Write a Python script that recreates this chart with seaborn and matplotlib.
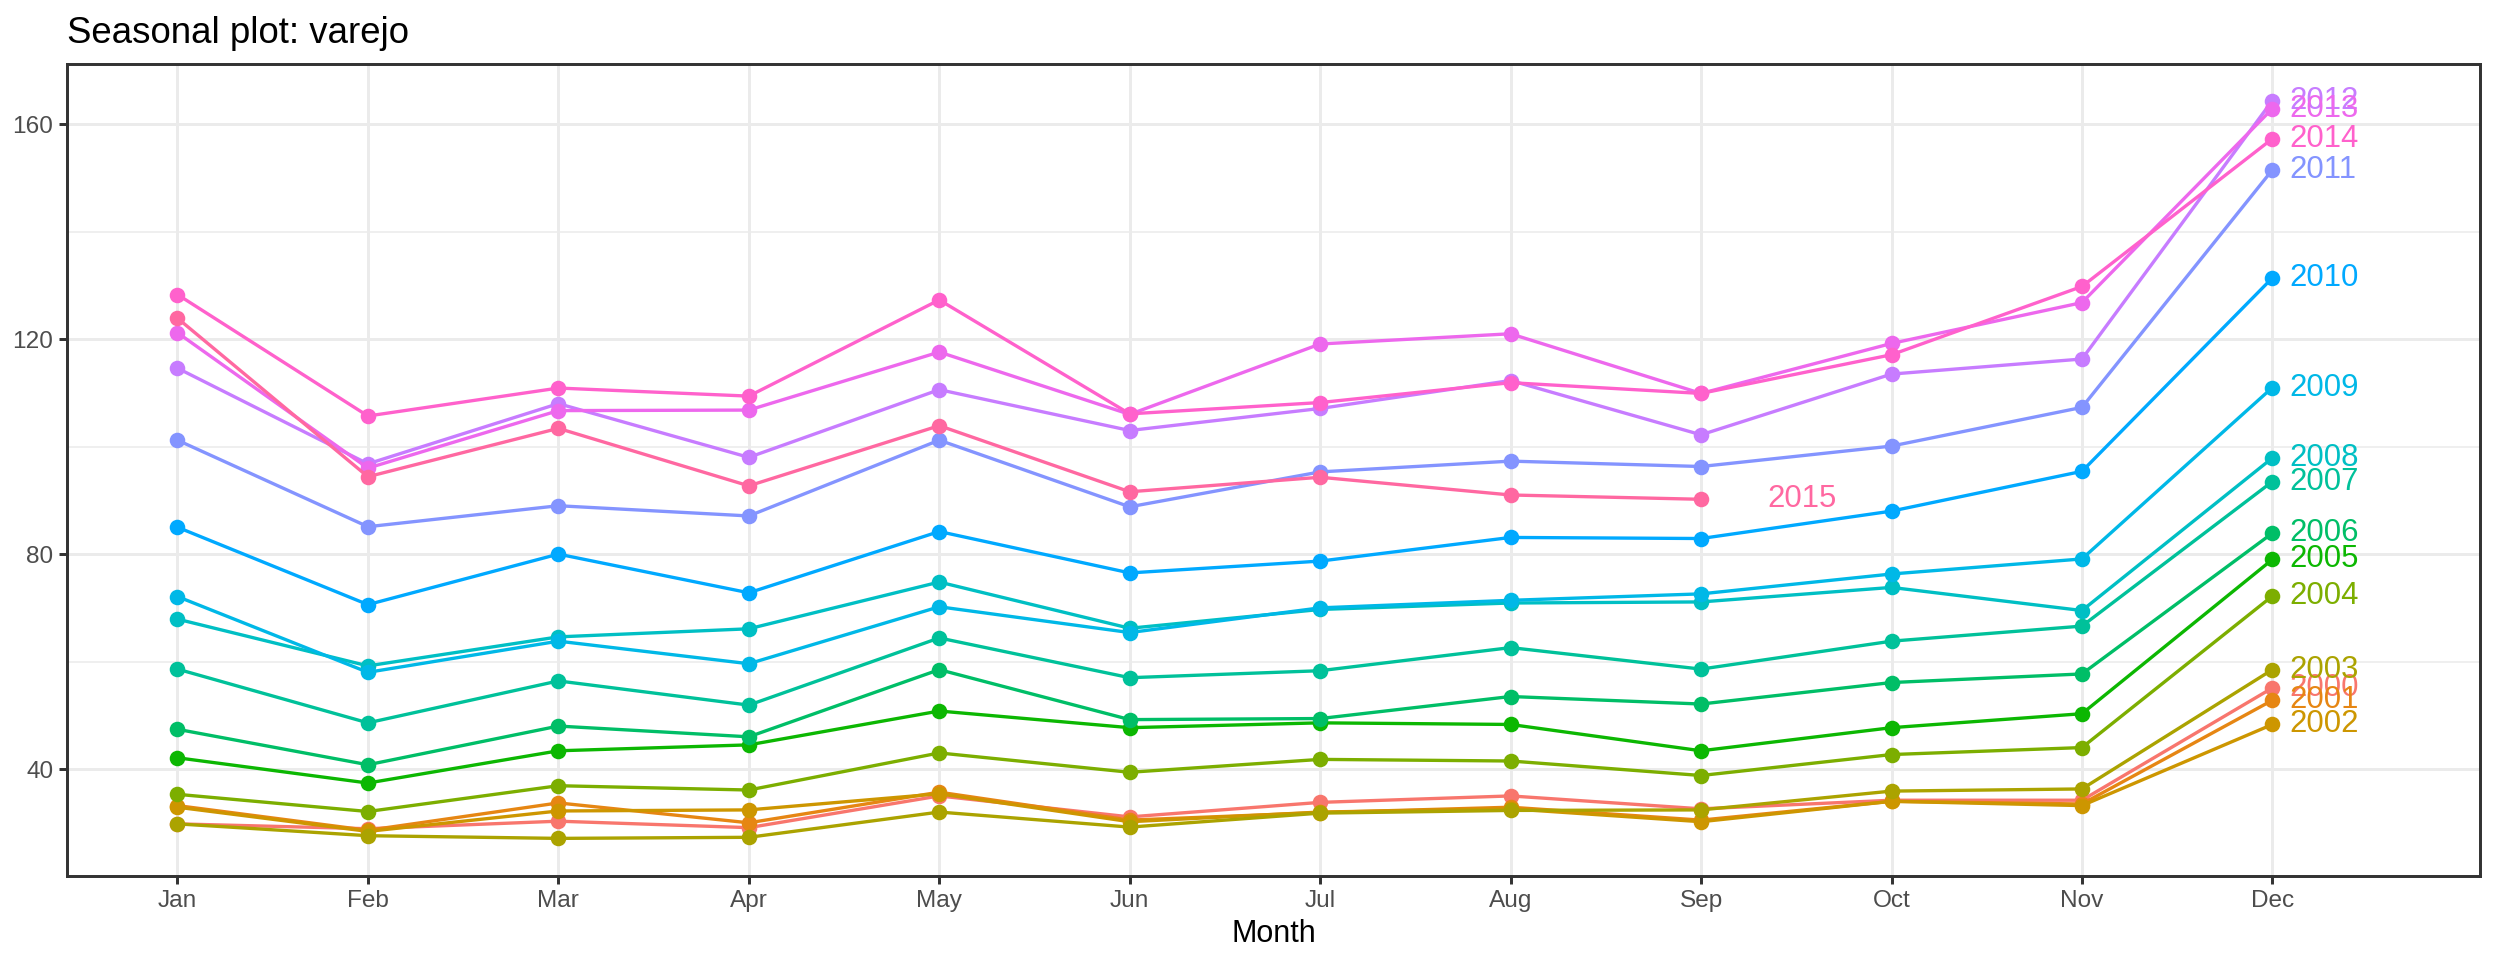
import numpy as np
import pandas as pd
import matplotlib
matplotlib.use('Agg')
import matplotlib.pyplot as plt
import seaborn as sns

# monthly retail index ("varejo"), one list per year
months = ['Jan', 'Feb', 'Mar', 'Apr', 'May', 'Jun',
          'Jul', 'Aug', 'Sep', 'Oct', 'Nov', 'Dec']

y2000 = [29.8, 28.9, 30.3, 29.1, 35.0, 31.1, 33.8, 35.0, 32.6, 34.2, 34.2, 55.1]
y2001 = [33.2, 28.6, 33.7, 30.0, 35.7, 30.5, 31.9, 32.9, 30.5, 34.0, 33.5, 52.8]
y2002 = [32.9, 28.4, 32.2, 32.4, 35.4, 30.2, 32.0, 32.6, 30.2, 34.0, 33.2, 48.3]
y2003 = [29.8, 27.6, 27.1, 27.3, 32.0, 29.2, 31.8, 32.3, 32.4, 35.9, 36.3, 58.5]
y2004 = [35.3, 32.1, 36.9, 36.1, 43.0, 39.4, 41.8, 41.5, 38.8, 42.7, 44.0, 72.2]
y2005 = [42.1, 37.4, 43.4, 44.5, 50.8, 47.7, 48.6, 48.3, 43.4, 47.7, 50.3, 79.0]
y2006 = [47.4, 40.8, 48.0, 46.0, 58.5, 49.2, 49.4, 53.5, 52.1, 56.1, 57.7, 83.9]
y2007 = [58.6, 48.6, 56.4, 51.9, 64.4, 57.0, 58.3, 62.6, 58.6, 63.8, 66.6, 93.5]
y2008 = [67.9, 59.2, 64.6, 66.1, 74.8, 66.2, 69.7, 70.9, 71.1, 73.8, 69.5, 97.9]
y2009 = [72.1, 58.0, 63.8, 59.6, 70.2, 65.4, 70.0, 71.4, 72.6, 76.3, 79.1, 111.0]
y2010 = [85.0, 70.6, 80.0, 72.8, 84.2, 76.5, 78.7, 83.1, 82.9, 88.0, 95.4, 131.4]
y2011 = [101.2, 85.1, 89.0, 87.1, 101.2, 88.8, 95.3, 97.3, 96.3, 100.1, 107.3, 151.5]
y2012 = [114.6, 96.8, 108.0, 98.0, 110.6, 103.0, 107.1, 112.3, 102.2, 113.5, 116.3, 164.4]
y2013 = [121.2, 96.0, 106.7, 106.8, 117.6, 106.0, 119.1, 121.0, 109.9, 119.2, 126.8, 162.9]
y2014 = [128.3, 105.7, 110.9, 109.4, 127.3, 106.1, 108.2, 111.9, 109.9, 117.1, 129.8, 157.3]
y2015 = [123.9, 94.4, 103.4, 92.7, 103.9, 91.6, 94.3, 91.0, 90.2]

series = {2000: y2000, 2001: y2001, 2002: y2002, 2003: y2003, 2004: y2004,
          2005: y2005, 2006: y2006, 2007: y2007, 2008: y2008, 2009: y2009,
          2010: y2010, 2011: y2011, 2012: y2012, 2013: y2013, 2014: y2014,
          2015: y2015}
years = list(series.keys())

rows = []
for yr, vals in series.items():
    for i, v in enumerate(vals):
        rows.append({'year': str(yr), 'month': i + 1, 'value': v})
df = pd.DataFrame(rows)


def hue_pal(n, c=100.0, l=65.0):
    # ggplot2 default discrete palette (HCL hues starting at 15 degrees)
    Xn, Yn, Zn = 95.047, 100.0, 108.883
    un = 4 * Xn / (Xn + 15 * Yn + 3 * Zn)
    vn = 9 * Yn / (Xn + 15 * Yn + 3 * Zn)
    M = np.array([[3.2404542, -1.5371385, -0.4985314],
                  [-0.9692660, 1.8760108, 0.0415560],
                  [0.0556434, -0.2040259, 1.0572252]])
    cols = []
    for h in 15 + 360.0 / n * np.arange(n):
        u = c * np.cos(np.radians(h))
        v = c * np.sin(np.radians(h))
        Y = Yn * ((l + 16) / 116) ** 3
        up = u / (13 * l) + un
        vp = v / (13 * l) + vn
        X = Y * 9 * up / (4 * vp)
        Z = Y * (12 - 3 * up - 20 * vp) / (4 * vp)
        rgb = M @ (np.array([X, Y, Z]) / 100)
        rgb = np.clip(rgb, 0, 1)
        rgb = np.where(rgb <= 0.0031308, 12.92 * rgb, 1.055 * rgb ** (1 / 2.4) - 0.055)
        cols.append(tuple(np.clip(rgb, 0, 1)))
    return cols


palette = hue_pal(len(years))

sns.set_style('white')
plt.rcParams['font.family'] = ['Liberation Sans', 'DejaVu Sans']

fig = plt.figure(figsize=(12.48, 4.8), dpi=200)
ax = fig.add_axes([67 / 2496, 1 - 876 / 960, (2480 - 67) / 2496, (876 - 64) / 960])

# grid (theme_bw look)
for g in [60, 100, 140]:
    ax.axhline(g, color='#EBEBEB', lw=0.55, zorder=0)
for g in [40, 80, 120, 160]:
    ax.axhline(g, color='#EBEBEB', lw=1.07, zorder=0)
for m in range(1, 13):
    ax.axvline(m, color='#EBEBEB', lw=1.07, zorder=0)

sns.lineplot(data=df, x='month', y='value', hue='year', palette=palette,
             estimator=None, sort=False, marker='o', markersize=5.6,
             markeredgewidth=0, linewidth=1.2, legend=False, ax=ax, zorder=3)

# year labels at the end of each line
for yr, col in zip(years, palette):
    vals = series[yr]
    last = len(vals)
    off = 0.09 if last == 12 else 0.35
    ax.text(last + off, vals[-1], str(yr), color=col, fontsize=11.2,
            ha='left', va='center', zorder=4)

ax.set_xlim(0.42, 13.09)
ax.set_ylim(20.1, 171.2)
ax.set_xticks(range(1, 13))
ax.set_xticklabels(months)
ax.set_yticks([40, 80, 120, 160])
ax.tick_params(axis='both', which='major', length=7.6 * 72 / 200, width=1.07,
               color='#333333', labelcolor='#4D4D4D', labelsize=8.8, pad=2.2,
               bottom=True, left=True)
ax.set_xlabel('')
ax.set_ylabel('')
for s in ax.spines.values():
    s.set_color('#333333')
    s.set_linewidth(1.07)

fig.text(67 / 2496, 1 - 43 / 960, 'Seasonal plot: varejo', fontsize=13.2,
         ha='left', va='baseline', color='black')
fig.text((67 + 2480) / 2 / 2496, 1 - 942 / 960, 'Month', fontsize=11,
         ha='center', va='baseline', color='black')

fig.savefig('out.png', dpi=200)
